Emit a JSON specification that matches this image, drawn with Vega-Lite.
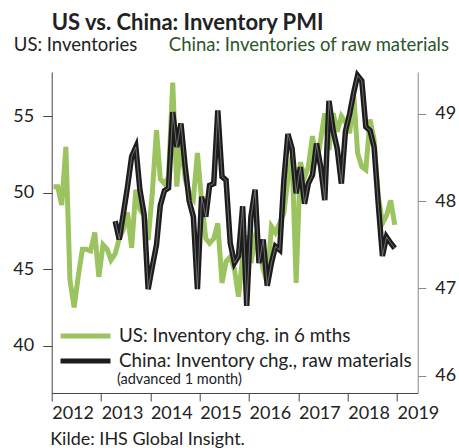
{
  "$schema": "https://vega.github.io/schema/vega-lite/v6.json",
  "width": 366,
  "height": 321,
  "autosize": {"type": "none"},
  "padding": {"left": 51.7, "top": 72, "right": 41.3, "bottom": 54.7},
  "background": "white",
  "config": {
    "view": {"stroke": null},
    "font": "Lato",
    "axis": {"grid": false, "labelFont": "Lato", "titleFont": "Lato", "labelFontSize": 18, "labelColor": "#222", "titleFontSize": 18.5, "titleFontWeight": "normal", "titleColor": "#222"}
  },
  "title": {"text": "US vs. China: Inventory PMI", "anchor": "start", "frame": "group", "font": "Lato", "fontSize": 22, "fontWeight": "bold", "color": "#222", "offset": 1},
  "datasets": {
    "us": [
      {"date": "2012-01-15", "value": 50.4}, {"date": "2012-02-15", "value": 50.4}, {"date": "2012-03-15", "value": 49.2}, {"date": "2012-04-15", "value": 53.0},
      {"date": "2012-05-15", "value": 44.3}, {"date": "2012-06-15", "value": 42.5}, {"date": "2012-07-15", "value": 44.5}, {"date": "2012-08-15", "value": 46.3},
      {"date": "2012-09-15", "value": 46.3}, {"date": "2012-10-15", "value": 46.2}, {"date": "2012-11-15", "value": 47.4}, {"date": "2012-12-15", "value": 44.5},
      {"date": "2013-01-15", "value": 46.6}, {"date": "2013-02-15", "value": 46.3}, {"date": "2013-03-15", "value": 45.6}, {"date": "2013-04-15", "value": 46.0},
      {"date": "2013-05-15", "value": 47.0}, {"date": "2013-06-15", "value": 47.6}, {"date": "2013-07-15", "value": 48.7}, {"date": "2013-08-15", "value": 46.4},
      {"date": "2013-09-15", "value": 50.2}, {"date": "2013-10-15", "value": 48.9}, {"date": "2013-11-15", "value": 48.5}, {"date": "2013-12-15", "value": 46.9},
      {"date": "2014-01-15", "value": 50.0}, {"date": "2014-02-15", "value": 54.1}, {"date": "2014-03-15", "value": 50.9}, {"date": "2014-04-15", "value": 50.6},
      {"date": "2014-05-15", "value": 51.0}, {"date": "2014-06-15", "value": 57.2}, {"date": "2014-07-15", "value": 50.4}, {"date": "2014-08-15", "value": 53.5},
      {"date": "2014-09-15", "value": 50.9}, {"date": "2014-10-15", "value": 50.0}, {"date": "2014-11-15", "value": 49.6}, {"date": "2014-12-15", "value": 52.6},
      {"date": "2015-01-15", "value": 49.5}, {"date": "2015-02-15", "value": 47.0}, {"date": "2015-03-15", "value": 46.7}, {"date": "2015-04-15", "value": 47.0},
      {"date": "2015-05-15", "value": 48.0}, {"date": "2015-06-15", "value": 44.1}, {"date": "2015-07-15", "value": 45.5}, {"date": "2015-08-15", "value": 45.8},
      {"date": "2015-09-15", "value": 45.0}, {"date": "2015-10-15", "value": 43.2}, {"date": "2015-11-15", "value": 45.8}, {"date": "2015-12-15", "value": 47.2},
      {"date": "2016-01-15", "value": 45.4}, {"date": "2016-02-15", "value": 47.0}, {"date": "2016-03-15", "value": 46.5}, {"date": "2016-04-15", "value": 45.0},
      {"date": "2016-05-15", "value": 44.1}, {"date": "2016-06-15", "value": 47.8}, {"date": "2016-07-15", "value": 47.4}, {"date": "2016-08-15", "value": 48.0},
      {"date": "2016-09-15", "value": 48.7}, {"date": "2016-10-15", "value": 50.9}, {"date": "2016-11-15", "value": 52.4}, {"date": "2016-12-15", "value": 44.1},
      {"date": "2017-01-15", "value": 52.0}, {"date": "2017-02-15", "value": 51.0}, {"date": "2017-03-15", "value": 51.7}, {"date": "2017-04-15", "value": 53.7},
      {"date": "2017-05-15", "value": 51.9}, {"date": "2017-06-15", "value": 53.5}, {"date": "2017-07-15", "value": 55.2}, {"date": "2017-08-15", "value": 52.8},
      {"date": "2017-09-15", "value": 55.2}, {"date": "2017-10-15", "value": 54.0}, {"date": "2017-11-15", "value": 55.0}, {"date": "2017-12-15", "value": 54.6},
      {"date": "2018-01-15", "value": 53.9}, {"date": "2018-02-15", "value": 56.3}, {"date": "2018-03-15", "value": 52.6}, {"date": "2018-04-15", "value": 51.7},
      {"date": "2018-05-15", "value": 51.5}, {"date": "2018-06-15", "value": 54.8}, {"date": "2018-07-15", "value": 53.5}, {"date": "2018-08-15", "value": 49.8},
      {"date": "2018-09-15", "value": 48.0}, {"date": "2018-10-15", "value": 48.5}, {"date": "2018-11-15", "value": 49.5}, {"date": "2018-12-15", "value": 47.9}
    ],
    "china": [
      {"date": "2013-04-15", "value": 47.77}, {"date": "2013-05-15", "value": 47.56}, {"date": "2013-06-15", "value": 47.86}, {"date": "2013-07-15", "value": 48.16},
      {"date": "2013-08-15", "value": 48.51}, {"date": "2013-09-15", "value": 48.62}, {"date": "2013-10-15", "value": 48.13}, {"date": "2013-11-15", "value": 47.85},
      {"date": "2013-12-15", "value": 46.99},
      {"date": "2014-01-15", "value": 47.25}, {"date": "2014-02-15", "value": 47.5}, {"date": "2014-03-15", "value": 47.95}, {"date": "2014-04-15", "value": 48.12},
      {"date": "2014-05-15", "value": 48.15}, {"date": "2014-06-15", "value": 49.02}, {"date": "2014-07-15", "value": 48.62}, {"date": "2014-08-15", "value": 48.89},
      {"date": "2014-09-15", "value": 48.4}, {"date": "2014-10-15", "value": 48.0}, {"date": "2014-11-15", "value": 47.82}, {"date": "2014-12-15", "value": 46.99},
      {"date": "2015-01-15", "value": 48.05}, {"date": "2015-02-15", "value": 47.82}, {"date": "2015-03-15", "value": 48.18}, {"date": "2015-04-15", "value": 48.2},
      {"date": "2015-05-15", "value": 49.04}, {"date": "2015-06-15", "value": 48.28}, {"date": "2015-07-15", "value": 48.24}, {"date": "2015-08-15", "value": 47.52},
      {"date": "2015-09-15", "value": 47.29}, {"date": "2015-10-15", "value": 47.37}, {"date": "2015-11-15", "value": 47.94}, {"date": "2015-12-15", "value": 46.8},
      {"date": "2016-01-15", "value": 47.82}, {"date": "2016-02-15", "value": 48.13}, {"date": "2016-03-15", "value": 47.29}, {"date": "2016-04-15", "value": 47.56},
      {"date": "2016-05-15", "value": 47.03}, {"date": "2016-06-15", "value": 47.29}, {"date": "2016-07-15", "value": 47.48}, {"date": "2016-08-15", "value": 47.44},
      {"date": "2016-09-15", "value": 48.24}, {"date": "2016-10-15", "value": 48.77}, {"date": "2016-11-15", "value": 48.6}, {"date": "2016-12-15", "value": 48.09},
      {"date": "2017-01-15", "value": 48.39}, {"date": "2017-02-15", "value": 47.97}, {"date": "2017-03-15", "value": 48.2}, {"date": "2017-04-15", "value": 48.3},
      {"date": "2017-05-15", "value": 48.66}, {"date": "2017-06-15", "value": 48.39}, {"date": "2017-07-15", "value": 48.01}, {"date": "2017-08-15", "value": 49.15},
      {"date": "2017-09-15", "value": 48.81}, {"date": "2017-10-15", "value": 48.6}, {"date": "2017-11-15", "value": 48.2}, {"date": "2017-12-15", "value": 48.8},
      {"date": "2018-01-15", "value": 49.0}, {"date": "2018-02-15", "value": 49.25}, {"date": "2018-03-15", "value": 49.44}, {"date": "2018-04-15", "value": 49.38},
      {"date": "2018-05-15", "value": 48.85}, {"date": "2018-06-15", "value": 48.81}, {"date": "2018-07-15", "value": 48.62}, {"date": "2018-08-15", "value": 47.97},
      {"date": "2018-09-15", "value": 47.37}, {"date": "2018-10-15", "value": 47.59}, {"date": "2018-11-15", "value": 47.52}, {"date": "2018-12-15", "value": 47.46}
    ]
  },
  "layer": [
    {
      "layer": [
        {
          "data": {"name": "us"},
          "mark": {"type": "line", "strokeWidth": 5},
          "encoding": {
            "x": {
              "field": "date", "type": "temporal",
              "scale": {"type": "utc", "domain": [{"year": 2012, "month": 1, "date": 1, "utc": true}, {"year": 2019, "month": 6, "date": 3, "utc": true}]},
              "axis": {
                "values": [
                  {"year": 2012, "month": 1, "date": 1, "utc": true}, {"year": 2013, "month": 1, "date": 1, "utc": true},
                  {"year": 2014, "month": 1, "date": 1, "utc": true}, {"year": 2015, "month": 1, "date": 1, "utc": true},
                  {"year": 2016, "month": 1, "date": 1, "utc": true}, {"year": 2017, "month": 1, "date": 1, "utc": true},
                  {"year": 2018, "month": 1, "date": 1, "utc": true}, {"year": 2019, "month": 1, "date": 1, "utc": true}
                ],
                "format": "%Y", "labelAlign": "left", "labelPadding": 4, "tickSize": 8, "labelFlush": false, "labelOverlap": false,
                "domainColor": "#444", "tickColor": "#444",
                "title": "Kilde: IHS Global Insight.", "titleFontSize": 18, "titleAnchor": "start", "titleAlign": "left", "titleBaseline": "alphabetic", "titleX": -2, "titleY": 51.5
              }
            },
            "y": {
              "field": "value", "type": "quantitative",
              "scale": {"domain": [36.9, 57.9], "nice": false, "zero": false},
              "axis": {
                "values": [40, 45, 50, 55], "format": "d", "tickSize": 9, "labelPadding": 9, "domainColor": "#444", "tickColor": "#444",
                "title": "US: Inventories", "titleAngle": 0, "titleAlign": "left", "titleBaseline": "alphabetic", "titleX": -38.4, "titleY": -21
              }
            },
            "color": {
              "datum": "US: Inventory chg. in 6 mths",
              "scale": {"domain": ["US: Inventory chg. in 6 mths", "China: Inventory chg., raw materials"], "range": ["#9bc35f", "#1c1c1c"]},
              "legend": {
                "orient": "none", "legendX": 6.3, "legendY": 252.5, "title": null, "padding": 0,
                "symbolType": "M-1,0H4.556", "symbolSize": 324, "symbolStrokeWidth": 5, "symbolOffset": 0,
                "labelFont": "Lato", "labelFontSize": 18.8, "labelColor": "#222", "labelOffset": 38, "rowPadding": 3, "labelLimit": 0
              }
            }
          }
        },
        {
          "data": {"values": [{}]},
          "mark": {"type": "text", "align": "left", "baseline": "middle", "font": "Lato", "fontSize": 14.5, "color": "#222"},
          "encoding": {
            "x": {"datum": {"year": 2013, "month": 4, "date": 28, "utc": true}},
            "y": {"datum": 37.78},
            "text": {"value": "(advanced 1 month)"}
          }
        }
      ]
    },
    {
      "data": {"name": "china"},
      "layer": [
        {
          "mark": {"type": "line", "strokeWidth": 5.5},
          "encoding": {
            "x": {"field": "date", "type": "temporal"},
            "y": {
              "field": "value", "type": "quantitative",
              "scale": {"domain": [45.8, 49.48], "nice": false, "zero": false},
              "axis": {
                "orient": "right", "values": [46, 47, 48, 49], "format": "d", "tickSize": 8, "labelPadding": 9, "domainColor": "#888", "tickColor": "#888",
                "title": "China: Inventories of raw materials", "titleAngle": 0, "titleAlign": "right", "titleBaseline": "alphabetic", "titleX": 30.8, "titleY": -21, "titleColor": "#2a552c"
              }
            },
            "color": {"datum": "China: Inventory chg., raw materials"}
          }
        },
        {
          "mark": {"type": "line", "strokeWidth": 1, "color": "#a0a0a0", "opacity": 0.6},
          "encoding": {
            "x": {"field": "date", "type": "temporal"},
            "y": {"field": "value", "type": "quantitative"}
          }
        }
      ]
    }
  ],
  "resolve": {"scale": {"y": "independent"}}
}
